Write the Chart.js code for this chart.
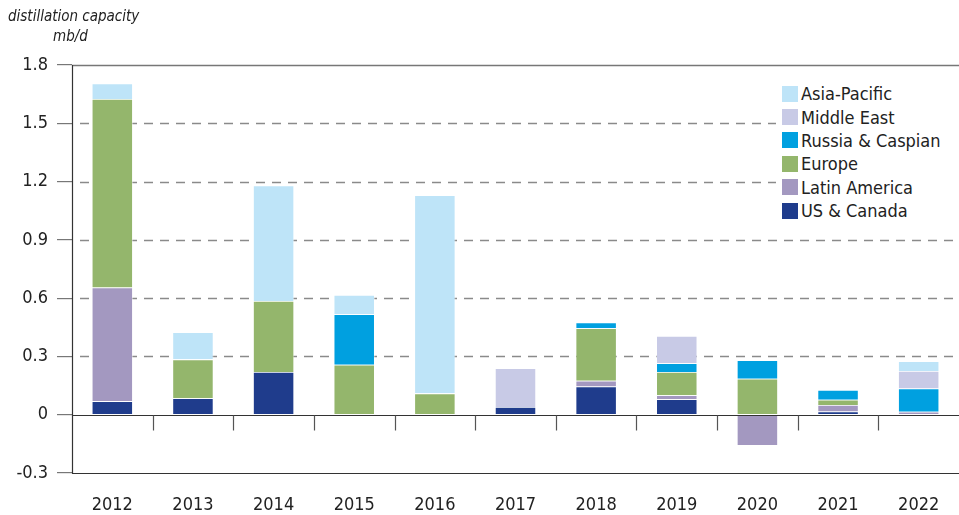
<!DOCTYPE html>
<html>
<head>
<meta charset="utf-8">
<script src="https://cdn.jsdelivr.net/npm/chart.js@4/dist/chart.umd.min.js"></script>
<style>
  html, body { margin: 0; padding: 0; background: #fff; }
  #wrap { position: relative; width: 959px; height: 515px; font-family: "DejaVu Sans Condensed", "Liberation Sans Narrow", sans-serif; }
  #unit { position: absolute; left: 8px; top: 6px; font-style: italic; font-size: 15px; color: #222; line-height: 20px; }
  #unit span { display: block; padding-left: 45px; }
  #legend { position: absolute; left: 776px; top: 80px; width: 178px; background: #fff; padding: 2px 0 2px 6px; }
  #legend div { display: flex; align-items: center; height: 23.4px; font-size: 18px; color: #222; }
  #legend i { display: inline-block; width: 16px; height: 16px; margin-right: 3px; }
</style>
</head>
<body>
<div id="wrap">
  <canvas id="chart" width="959" height="515"></canvas>
  <div id="unit">distillation capacity<span>mb/d</span></div>
  <div id="legend"></div>
</div>
<script>
// years
const years = ['2012','2013','2014','2015','2016','2017','2018','2019','2020','2021','2022'];
const yTicks = [-0.3, 0, 0.3, 0.6, 0.9, 1.2, 1.5, 1.8];

// series (mb/d), bottom to top of each stack
const usCanada     = [0.07, 0.085, 0.22, 0, 0, 0.04, 0.145, 0.08, 0, 0.017, 0];
const latinAmerica = [0.585, 0, 0, 0, 0, 0, 0.03, 0.02, -0.16, 0.033, 0.015];
const europe       = [0.97, 0.2, 0.365, 0.257, 0.11, 0, 0.27, 0.12, 0.185, 0.027, 0];
const russiaCasp   = [0, 0, 0, 0.26, 0, 0, 0.03, 0.045, 0.095, 0.05, 0.12];
const middleEast   = [0, 0, 0, 0, 0, 0.2, 0, 0.14, 0, 0, 0.09];
const asiaPacific  = [0.08, 0.14, 0.595, 0.1, 1.02, 0, 0, 0, 0, 0, 0.05];

const series = [
  { label: 'US & Canada', data: usCanada, color: '#1F3C8C' },
  { label: 'Latin America', data: latinAmerica, color: '#A398C0' },
  { label: 'Europe', data: europe, color: '#94B66C' },
  { label: 'Russia & Caspian', data: russiaCasp, color: '#00A0E0' },
  { label: 'Middle East', data: middleEast, color: '#C8CAE6' },
  { label: 'Asia-Pacific', data: asiaPacific, color: '#BEE4F8' }
];

// html legend, top item = last series
document.getElementById('legend').innerHTML = series.slice().reverse()
  .map(s => `<div><i style="background:${s.color}"></i>${s.label}</div>`).join('');

const fontFamily = '"DejaVu Sans Condensed", "Liberation Sans Narrow", sans-serif';

function topPx(y) { return Math.round(y.getPixelForValue(1.8)); }

// gridlines, zero line and category ticks
const gridPlugin = {
  id: 'grid',
  beforeDatasetsDraw(chart) {
    const { ctx, chartArea: a, scales: { y } } = chart;
    ctx.save();
    ctx.strokeStyle = '#8a8a8a';
    ctx.lineWidth = 1.5;
    ctx.setLineDash([9, 7]);
    yTicks.forEach(v => {
      if (v <= 0 || v >= 1.8) return;
      const py = Math.round(y.getPixelForValue(v)) + 0.5;
      ctx.beginPath(); ctx.moveTo(a.left + 8, py); ctx.lineTo(a.right, py); ctx.stroke();
    });
    ctx.setLineDash([]);
    const t = topPx(y) + 0.5;
    ctx.strokeStyle = '#777';
    ctx.beginPath(); ctx.moveTo(a.left, t); ctx.lineTo(a.right, t); ctx.stroke();
    ctx.restore();
  },
  afterDatasetsDraw(chart) {
    const { ctx, chartArea: a, scales: { x, y } } = chart;
    ctx.save();
    const zero = Math.round(y.getPixelForValue(0)) + 0.5;
    const bottom = Math.round(y.getPixelForValue(-0.3)) + 0.5;
    ctx.strokeStyle = '#333';
    ctx.lineWidth = 1.2;
    ctx.beginPath(); ctx.moveTo(a.left, zero); ctx.lineTo(a.right, zero); ctx.stroke();
    ctx.beginPath(); ctx.moveTo(a.left, bottom); ctx.lineTo(a.right, bottom); ctx.stroke();
    ctx.beginPath(); ctx.moveTo(a.left + 0.5, topPx(y)); ctx.lineTo(a.left + 0.5, bottom); ctx.stroke();
    ctx.strokeStyle = '#555';
    for (let i = 1; i < years.length; i++) {
      const px = Math.round((x.getPixelForValue(i - 1) + x.getPixelForValue(i)) / 2) + 0.5;
      ctx.beginPath(); ctx.moveTo(px, zero); ctx.lineTo(px, zero + 15); ctx.stroke();
    }
    ctx.restore();
  }
};

new Chart(document.getElementById('chart'), {
  type: 'bar',
  data: {
    labels: years,
    datasets: series.map(s => ({
      label: s.label,
      data: s.data,
      backgroundColor: s.color,
      borderColor: 'rgba(255,255,255,0.6)',
      borderWidth: 0.8,
      categoryPercentage: 1,
      barPercentage: 0.51
    }))
  },
  options: {
    responsive: false,
    animation: false,
    layout: { padding: { top: 65, right: 0, left: 0, bottom: 0 } },
    plugins: { legend: { display: false }, tooltip: { enabled: false } },
    scales: {
      x: {
        stacked: true,
        grid: { display: false },
        border: { display: false },
        ticks: { color: '#222', font: { family: fontFamily, size: 18 }, padding: 14 },
        afterFit(s) { s.height = 42; }
      },
      y: {
        stacked: true,
        min: -0.3,
        max: 1.8,
        afterBuildTicks(s) { s.ticks = yTicks.map(v => ({ value: v })); },
        grid: { drawOnChartArea: false, tickLength: 15, color: '#777', lineWidth: 1.2 },
        border: { display: false },
        ticks: {
          color: '#222',
          font: { family: fontFamily, size: 18 },
          padding: 9,
          callback: v => v === 0 ? '0' : (v < 0 ? '-' + Math.abs(v).toFixed(1) : v.toFixed(1))
        },
        afterFit(s) { s.width = 72; }
      }
    }
  },
  plugins: [gridPlugin]
});
</script>
</body>
</html>
